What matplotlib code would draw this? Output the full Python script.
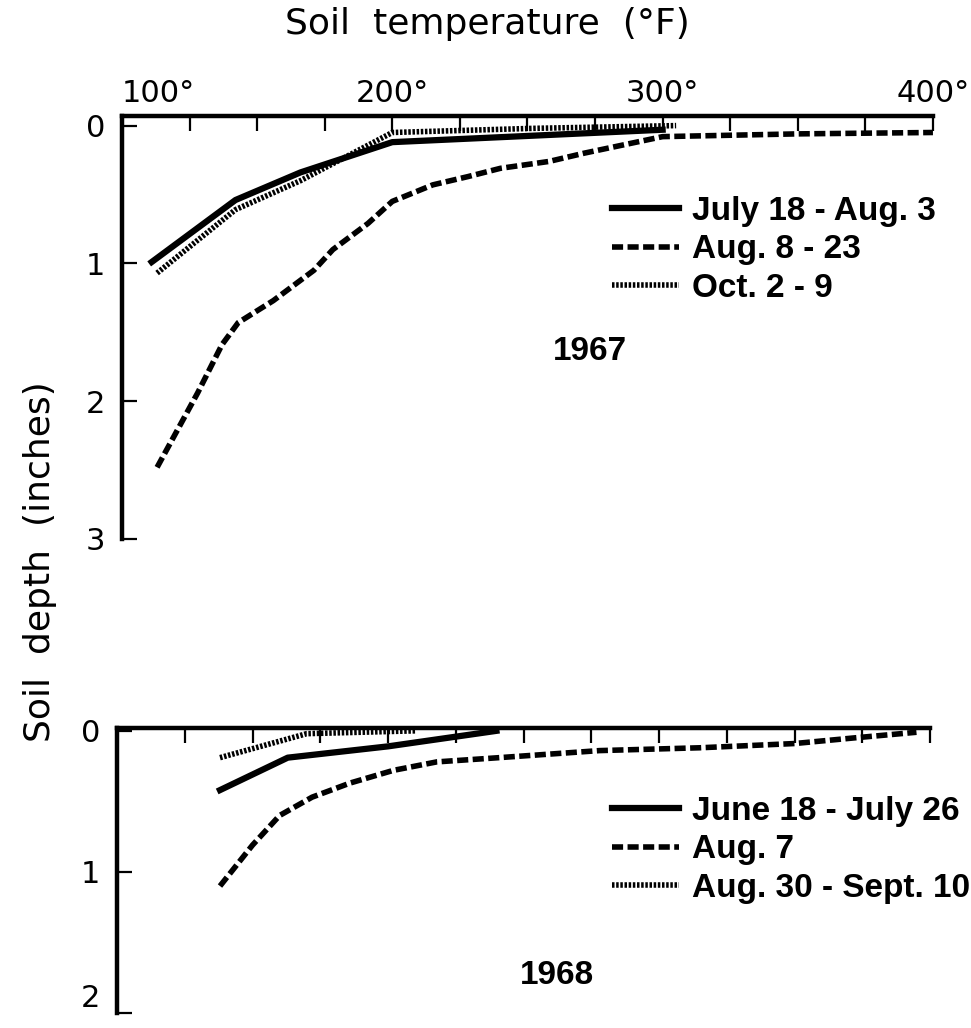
import matplotlib.pyplot as plt

#
# Dati: temperatura del suolo (°F) e profondità (pollici)
# #
temp_ticks = [100, 200, 300, 400]
temp_tick_labels = ['100°', '200°', '300°', '400°']

# 1967
t67_jul = [111, 142, 166, 200, 300]
d67_jul = [0.99, 0.54, 0.34, 0.12, 0.03]

t67_aug = [113, 128, 137, 143, 156, 171, 178, 191, 200, 215, 228, 240, 258, 271, 300, 350, 400]
d67_aug = [2.48, 1.94, 1.59, 1.43, 1.27, 1.05, 0.9, 0.71, 0.55, 0.43, 0.37, 0.31, 0.26, 0.2, 0.08, 0.06, 0.05]

t67_oct = [113, 142, 166, 200, 252, 305]
d67_oct = [1.07, 0.61, 0.4, 0.05, 0.02, 0.0]

labels67 = ['July 18 - Aug. 3', 'Aug. 8 - 23', 'Oct. 2 - 9']

# 1968
t68_jun = [138, 163, 200, 240]
d68_jun = [0.42, 0.19, 0.11, 0.0]

t68_aug7 = [138, 150, 160, 172, 186, 202, 218, 241, 278, 315, 350, 372, 395]
d68_aug7 = [1.1, 0.81, 0.6, 0.47, 0.37, 0.28, 0.22, 0.19, 0.14, 0.12, 0.09, 0.05, 0.01]

t68_aug30 = [138, 170, 210]
d68_aug30 = [0.19, 0.02, 0.0]

labels68 = ['June 18 - July 26', 'Aug. 7', 'Aug. 30 - Sept. 10']

SOLID = '-'
DASHED = (0, (2.0, 0.8))
DOTTED = (0, (0.45, 0.3))

LEG_FONT = {'family': 'Liberation Sans', 'weight': 'bold', 'size': 24}


#
# Imposta gli assi nello stile del grafico originale
# #
def style_axes(ax, ymax, ytop, yticks):
    ax.set_xlim(100, 400)
    ax.set_ylim(ymax, ytop)
    for side in ['right', 'bottom']:
        ax.spines[side].set_visible(False)
    for side in ['left', 'top']:
        ax.spines[side].set_linewidth(3.2)
    ax.xaxis.tick_top()
    ax.set_xticks(range(100, 401, 25))
    ax.tick_params(axis='x', direction='in', length=11, width=1.6, pad=6, labelsize=22)
    ax.set_yticks(yticks)
    ax.set_yticklabels([str(v) for v in yticks])
    ax.tick_params(axis='y', direction='in', length=11, width=1.6, pad=12, labelsize=22)
    ax.patch.set_visible(False)


def draw(ax, series, labels, anchor):
    for (t, d, ls, lw), lab in zip(series, labels):
        ax.plot(t, d, color='black', linestyle=ls, linewidth=lw, label=lab,
                clip_on=False)
    ax.legend(loc='upper left', bbox_to_anchor=anchor, bbox_transform=fig.transFigure,
              frameon=False, prop=LEG_FONT, handlelength=2.0, handletextpad=0.4,
              labelspacing=0.22, borderpad=0, borderaxespad=0)


fig = plt.figure(figsize=(9.71, 10.28), dpi=100)

ax1 = fig.add_axes([0.1256, 0.4757, 0.8352, 0.4115])
ax2 = fig.add_axes([0.1205, 0.0146, 0.8373, 0.2772])

style_axes(ax1, 3.0, -0.07, [0, 1, 2, 3])
style_axes(ax2, 2.0, -0.02, [0, 1, 2])

labels = []
for t in range(100, 401, 25):
    labels.append(temp_tick_labels[temp_ticks.index(t)] if t in temp_ticks else '')
ax1.set_xticklabels(labels)
ax1.get_xticklabels()[0].set_horizontalalignment('left')
ax2.set_xticklabels([])
# l'etichetta "2" in basso sta sul bordo: la alzo un poco
ax2.get_yticklabels()[-1].set_verticalalignment('bottom')

draw(ax1, [(t67_jul, d67_jul, SOLID, 4.5),
           (t67_aug, d67_aug, DASHED, 4.0),
           (t67_oct, d67_oct, DOTTED, 4.0)],
     labels67, (612 / 971, 1 - 196 / 1028))

draw(ax2, [(t68_jun, d68_jun, SOLID, 4.5),
           (t68_aug7, d68_aug7, DASHED, 4.0),
           (t68_aug30, d68_aug30, DOTTED, 4.0)],
     labels68, (612 / 971, 1 - 796 / 1028))

fig.text(590 / 971, 1 - 352 / 1028, '1967', ha='center', va='center', **LEG_FONT)
fig.text(557 / 971, 1 - 975 / 1028, '1968', ha='center', va='center', **LEG_FONT)

fig.text(487 / 971, 1 - 24 / 1028, 'Soil  temperature  (°F)', ha='center', va='center',
         fontsize=26)
fig.text(40 / 971, 1 - 562 / 1028, 'Soil  depth  (inches)', ha='center', va='center',
         rotation=90, fontsize=26)

fig.savefig('out.png', dpi=100)
